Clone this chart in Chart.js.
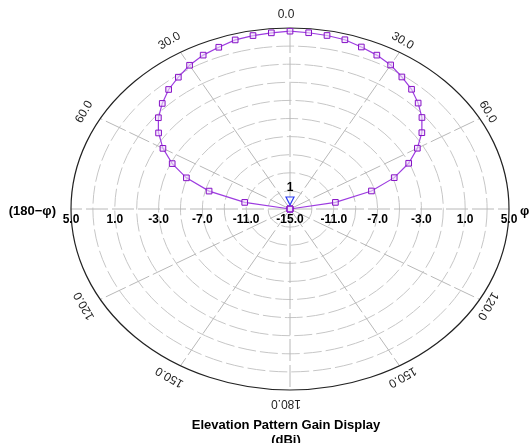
<!DOCTYPE html>
<html>
<head>
<meta charset="utf-8">
<script src="https://cdn.jsdelivr.net/npm/chart.js@4.4.1/dist/chart.umd.min.js"></script>
<style>
  body { margin: 0; background: #fff; }
  canvas { display: block; }
</style>
</head>
<body>
<canvas id="chart" width="532" height="443"></canvas>
<script>
// elevation angle in degrees (negative = "180-phi" side, positive = "phi" side)
const angles = [-90, -85, -80, -75, -70, -65, -60, -55, -50, -45, -40, -35, -30, -25, -20, -15, -10, -5,
                0, 5, 10, 15, 20, 25, 30, 35, 40, 45, 50, 55, 60, 65, 70, 75, 80, 85, 90];
// gain in dBi
const gains = [-15, -15, -10.8, -7.35, -4.93, -3.13, -1.6, -0.35, 0.69, 1.5, 2.24, 2.78, 3.34, 3.76, 4.02, 4.34, 4.46, 4.54,
               4.65, 4.55, 4.47, 4.36, 4.05, 3.76, 3.38, 2.81, 2.27, 1.55, 0.73, -0.3, -1.57, -3.04, -4.87, -7.3, -10.79, -15, -15];

const gainMin = -15;
const gainMax = 5;
const ringValues = [-13, -11, -9, -7, -5, -3, -1, 1, 3];
const tickValues = [5, 1, -3, -7, -11, -15];
const angleTicks = [0, 30, 60, 120, 150, 180];
const spokeAngles = [0, 30, 60, 90, 120, 150, 180, 210, 240, 270, 300, 330];
const markerAngle = -90;   // marker "1"
const titleLines = ['Elevation Pattern Gain Display', '(dBi)'];

const FONT = '"Liberation Sans", Arial, sans-serif';

function toXY(angle, gain){
    let r = (Math.max(gain, gainMin) - gainMin) / (gainMax - gainMin);
    let a = angle * Math.PI / 180;
    return {x: r * Math.sin(a), y: r * Math.cos(a)};
}

function geom(chart){
    const xs = chart.scales.x, ys = chart.scales.y;
    const cx = xs.getPixelForValue(0), cy = ys.getPixelForValue(0);
    return {cx: cx, cy: cy, rx: xs.getPixelForValue(1) - cx, ry: cy - ys.getPixelForValue(1)};
}

const polarGrid = {
    id: 'polarGrid',
    beforeDatasetsDraw(chart){
        const ctx = chart.ctx;
        const g = geom(chart);
        ctx.save();

        // gain rings
        ctx.strokeStyle = '#c6c6c6';
        ctx.lineWidth = 1;
        ctx.setLineDash([18, 4]);
        ringValues.forEach(v => {
            const f = (v - gainMin) / (gainMax - gainMin);
            ctx.beginPath();
            ctx.ellipse(g.cx, g.cy, g.rx * f, g.ry * f, 0, 0, Math.PI * 2);
            ctx.stroke();
        });

        // spokes
        ctx.strokeStyle = '#b8b8b8';
        ctx.setLineDash([22, 4]);
        spokeAngles.forEach(a => {
            const t = a * Math.PI / 180;
            ctx.beginPath();
            ctx.moveTo(g.cx, g.cy);
            ctx.lineTo(g.cx + g.rx * Math.sin(t), g.cy - g.ry * Math.cos(t));
            ctx.stroke();
        });

        // outer ring
        ctx.setLineDash([]);
        ctx.strokeStyle = '#222';
        ctx.lineWidth = 1.2;
        ctx.beginPath();
        ctx.ellipse(g.cx, g.cy, g.rx, g.ry, 0, 0, Math.PI * 2);
        ctx.stroke();
        ctx.restore();
    },
    afterDraw(chart){
        const ctx = chart.ctx;
        const g = geom(chart);
        ctx.save();
        ctx.textAlign = 'center';
        ctx.textBaseline = 'middle';

        // angle labels round the outside
        ctx.fillStyle = '#222';
        ctx.font = '12px ' + FONT;
        angleTicks.forEach(v => {
            const sides = (v === 0 || v === 180) ? [v] : [v, -v];
            sides.forEach(a => {
                const t = a * Math.PI / 180;
                const px = g.cx + g.rx * Math.sin(t) + Math.sin(t) * 14 - 4;
                const py = g.cy - g.ry * Math.cos(t) - Math.cos(t) * 13;
                ctx.save();
                ctx.translate(px, py);
                ctx.rotate(t);
                ctx.fillText(v.toFixed(1), 0, 0);
                ctx.restore();
            });
        });

        // gain tick labels along the horizontal axis
        ctx.fillStyle = '#000';
        ctx.font = 'bold 12px ' + FONT;
        tickValues.forEach(v => {
            const f = (v - gainMin) / (gainMax - gainMin);
            const txt = v.toFixed(1);
            if (f === 0){
                ctx.fillText(txt, g.cx, g.cy + 11);
            } else {
                ctx.fillText(txt, g.cx - g.rx * f, g.cy + 11);
                ctx.fillText(txt, g.cx + g.rx * f, g.cy + 11);
            }
        });

        ctx.font = 'bold 13px ' + FONT;
        ctx.textAlign = 'right';
        ctx.fillText('(180\u2212\u03c6)', g.cx - g.rx - 15, g.cy + 2);
        ctx.textAlign = 'left';
        ctx.fillText('\u03c6', g.cx + g.rx + 11, g.cy + 2);

        // marker 1
        const idx = angles.indexOf(markerAngle);
        const pt = chart.getDatasetMeta(0).data[idx];
        ctx.strokeStyle = '#2b3cf2';
        ctx.fillStyle = 'rgba(255,255,255,0.7)';
        ctx.lineWidth = 1.2;
        ctx.beginPath();
        ctx.moveTo(pt.x - 4, pt.y - 12);
        ctx.lineTo(pt.x + 4, pt.y - 12);
        ctx.lineTo(pt.x, pt.y - 4);
        ctx.closePath();
        ctx.fill();
        ctx.stroke();
        ctx.fillStyle = '#000';
        ctx.textAlign = 'center';
        ctx.font = 'bold 12px ' + FONT;
        ctx.fillText('1', pt.x, pt.y - 21);

        // title under the plot
        ctx.font = 'bold 13px ' + FONT;
        ctx.fillText(titleLines[0], g.cx - 4, 425);
        ctx.fillText(titleLines[1], g.cx - 4, 440);
        ctx.restore();
    }
};

const ctx = document.getElementById('chart');

const chart = new Chart(ctx, {
    type: 'scatter',
    data: {
        datasets: [{
            label: 'Gain',
            data: angles.map((a, i) => toXY(a, gains[i])),
            showLine: true,
            borderColor: '#9d3ce0',
            borderWidth: 1.2,
            pointStyle: 'rect',
            pointRadius: 4,
            pointBorderWidth: 1,
            pointBorderColor: '#8612c6',
            pointBackgroundColor: 'rgba(240,225,250,0.6)'
        }]
    },
    options: {
        responsive: false,
        animation: false,
        layout: { padding: { left: 71, right: 23, top: 28, bottom: 53 } },
        scales: {
            x: { type: 'linear', min: -1, max: 1, display: false },
            y: { type: 'linear', min: -1, max: 1, display: false }
        },
        plugins: {
            legend: { display: false },
            tooltip: { enabled: false }
        }
    },
    plugins: [polarGrid]
});
</script>
</body>
</html>
